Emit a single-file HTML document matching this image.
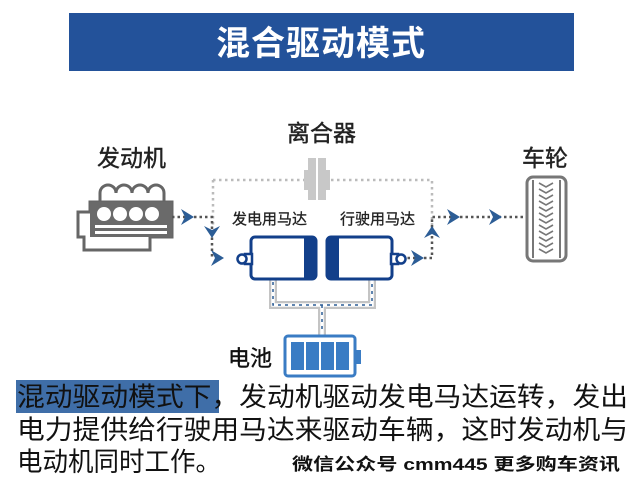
<!DOCTYPE html>
<html><head><meta charset="utf-8"><style>
html,body{margin:0;padding:0;background:#fff;width:640px;height:480px;overflow:hidden}
svg{display:block}
</style></head><body>
<svg width="640" height="480" viewBox="0 0 640 480" xmlns="http://www.w3.org/2000/svg" font-family="Liberation Sans, Noto Sans CJK SC, sans-serif">
<rect x="69" y="13" width="505" height="58" fill="#23529a"/>
<text x="321" y="55" text-anchor="middle" fill="#fff" font-size="34" font-weight="bold" letter-spacing="1">混合驱动模式</text>

<text x="97" y="166" font-size="23" fill="#222" stroke="#222" stroke-width="0.4">发动机</text>
<text x="287" y="141" font-size="23" fill="#222" stroke="#222" stroke-width="0.4">离合器</text>
<text x="522" y="166" font-size="23" fill="#222" stroke="#222" stroke-width="0.4">车轮</text>
<text x="232" y="224" font-size="15" fill="#222" stroke="#222" stroke-width="0.3">发电用马达</text>
<text x="340" y="224" font-size="15" fill="#222" stroke="#222" stroke-width="0.3">行驶用马达</text>

<!-- clutch dotted -->
<path d="M213 180 H305 M331 180 H432 V225 M213 180 V225" stroke="#bbb" stroke-width="2.5" stroke-dasharray="2.5 3.5" fill="none"/>
<rect x="308" y="158" width="8" height="42" fill="#c8c8c8"/>
<rect x="318" y="158" width="8" height="42" fill="#c8c8c8"/>
<rect x="304" y="170" width="5" height="20" fill="#c8c8c8"/>
<rect x="325" y="170" width="5" height="20" fill="#c8c8c8"/>

<!-- engine -->
<g fill="none" stroke="#666" stroke-width="3">
<path d="M100 202 v-9 a8 8 0 0 1 16 0 a8 8 0 0 1 16 0 a8 8 0 0 1 16 0 a8 8 0 0 1 16 0 v9"/>
<path d="M90 202 H172 V237 H150 V250 H84 V237 H78 V212 H90 Z"/>
</g>
<rect x="90" y="202" width="82" height="35" fill="#6a6a6a"/>
<g fill="#fff"><circle cx="104" cy="214" r="7"/><circle cx="120" cy="214" r="7"/><circle cx="136" cy="214" r="7"/><circle cx="152" cy="214" r="7"/></g>
<rect x="95" y="225" width="72" height="3" fill="#fff"/>
<rect x="95" y="231" width="72" height="3" fill="#fff"/>

<!-- power arrows -->
<g stroke="#555" stroke-width="2.5" stroke-dasharray="2.5 3" fill="none">
<path d="M172 217 H212 V258"/>
<path d="M402 258 H432 V217 H525"/>
</g>
<g fill="#2c5d96">
<path d="M181 209 l13 8 l-13 8 l4 -8 z"/>
<path d="M204 226 l8 12 l8 -12 l-8 4 z"/>
<path d="M211 250 l13 8 l-13 8 l4 -8 z"/>
<path d="M411 250 l13 8 l-13 8 l4 -8 z"/>
<path d="M424 238 l8 -12 l8 12 l-8 -4 z"/>
<path d="M447 209 l13 8 l-13 8 l4 -8 z"/>
<path d="M489 209 l13 8 l-13 8 l4 -8 z"/>
</g>

<!-- wheel -->
<rect x="527" y="177" width="39" height="84" rx="6" fill="#fff" stroke="#777" stroke-width="3"/>
<line x1="533" y1="180" x2="533" y2="258" stroke="#777" stroke-width="2"/>
<line x1="560" y1="180" x2="560" y2="258" stroke="#777" stroke-width="2"/>
<path d="M539 183 l7 4 l7 -4 M539 189 l7 4 l7 -4 M539 195 l7 4 l7 -4 M539 201 l7 4 l7 -4 M539 207 l7 4 l7 -4 M539 213 l7 4 l7 -4 M539 219 l7 4 l7 -4 M539 225 l7 4 l7 -4 M539 231 l7 4 l7 -4 M539 237 l7 4 l7 -4 M539 243 l7 4 l7 -4 M539 249 l7 4 l7 -4" stroke="#777" stroke-width="1.6" fill="none"/>

<!-- wiring -->
<g fill="none" stroke="#c4c4c4" stroke-width="8">
<path d="M273 279 V305 H372 V279 M322 305 V335"/>
</g>
<g fill="none" stroke="#fff" stroke-width="3.5">
<path d="M273 279 V305 H372 V279 M322 305 V335"/>
</g>
<g fill="none" stroke="#2c5d96" stroke-width="1.5" stroke-dasharray="3 4">
<path d="M273 282 V305 H372 V282 M322 305 V333"/>
</g>

<!-- motors -->
<rect x="251" y="237" width="65" height="42" rx="4" fill="#fff" stroke="#123f8a" stroke-width="3"/>
<rect x="304" y="237" width="12" height="42" fill="#123f8a"/>
<rect x="245" y="254" width="7" height="10" fill="#fff" stroke="#123f8a" stroke-width="2.5"/>
<circle cx="242" cy="259" r="4.5" fill="#fff" stroke="#123f8a" stroke-width="2.5"/>
<rect x="327" y="237" width="65" height="42" rx="4" fill="#fff" stroke="#123f8a" stroke-width="3"/>
<rect x="327" y="237" width="12" height="42" fill="#123f8a"/>
<rect x="391" y="254" width="7" height="10" fill="#fff" stroke="#123f8a" stroke-width="2.5"/>
<circle cx="401" cy="259" r="4.5" fill="#fff" stroke="#123f8a" stroke-width="2.5"/>

<!-- battery -->
<rect x="285" y="336" width="70" height="40" rx="3" fill="#fff" stroke="#3a7cc4" stroke-width="3"/>
<rect x="355" y="350" width="6" height="14" fill="#3a7cc4"/>
<g fill="#3a7cc4"><rect x="291" y="342" width="13" height="28"/><rect x="306" y="342" width="13" height="28"/><rect x="321" y="342" width="13" height="28"/><rect x="336" y="342" width="13" height="28"/></g>
<text x="228" y="366" font-size="22" fill="#111" stroke="#111" stroke-width="0.4">电池</text>

<!-- description -->
<rect x="16" y="380" width="203" height="33" fill="#3f6ea8"/>
<g font-size="26.5" fill="#111">
<text x="17" y="406" textLength="611" lengthAdjust="spacingAndGlyphs">混动驱动模式下，发动机驱动发电马达运转，发出</text>
<text x="17" y="439" textLength="611" lengthAdjust="spacingAndGlyphs">电力提供给行驶用马达来驱动车辆，这时发动机与</text>
<text x="17" y="471" textLength="204" lengthAdjust="spacingAndGlyphs">电动机同时工作。</text>
</g>
<text x="292" y="470" font-size="17" font-weight="bold" fill="#111" textLength="328" lengthAdjust="spacingAndGlyphs">微信公众号 cmm445 更多购车资讯</text>
</svg>
</body></html>
